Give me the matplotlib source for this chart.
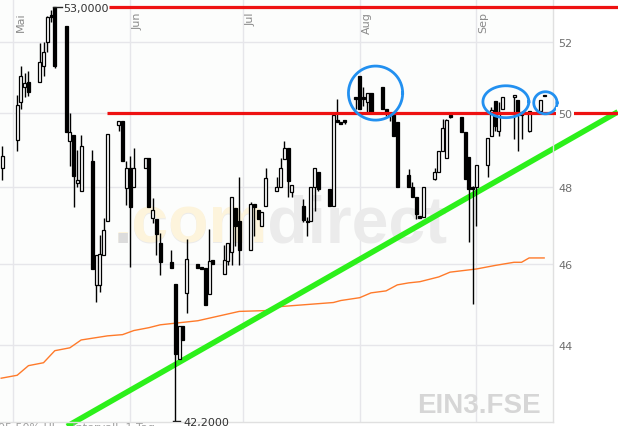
import numpy as np
import pandas as pd
import matplotlib
matplotlib.use("Agg")
import matplotlib.pyplot as plt
import matplotlib.dates as mdates
from matplotlib.transforms import blended_transform_factory
from matplotlib.ticker import NullLocator

# ---------------- data ----------------
dates = ['2017-04-28', '2017-05-02', '2017-05-03', '2017-05-04', '2017-05-05',
         '2017-05-08', '2017-05-09', '2017-05-10', '2017-05-11', '2017-05-12',
         '2017-05-15', '2017-05-16', '2017-05-17', '2017-05-18', '2017-05-19',
         '2017-05-22', '2017-05-23', '2017-05-24', '2017-05-25', '2017-05-26',
         '2017-05-29', '2017-05-30', '2017-05-31', '2017-06-01', '2017-06-02',
         '2017-06-05', '2017-06-06', '2017-06-07', '2017-06-08', '2017-06-09',
         '2017-06-12', '2017-06-13', '2017-06-14', '2017-06-15', '2017-06-16',
         '2017-06-19', '2017-06-20', '2017-06-21', '2017-06-22', '2017-06-23',
         '2017-06-26', '2017-06-27', '2017-06-28', '2017-06-29', '2017-06-30',
         '2017-07-03', '2017-07-04', '2017-07-05', '2017-07-06', '2017-07-07',
         '2017-07-10', '2017-07-11', '2017-07-12', '2017-07-13', '2017-07-14',
         '2017-07-17', '2017-07-18', '2017-07-19', '2017-07-20', '2017-07-21',
         '2017-07-24', '2017-07-25', '2017-07-26', '2017-07-27', '2017-07-28',
         '2017-07-31', '2017-08-01', '2017-08-02', '2017-08-03', '2017-08-04',
         '2017-08-07', '2017-08-08', '2017-08-09', '2017-08-10', '2017-08-11',
         '2017-08-14', '2017-08-15', '2017-08-16', '2017-08-17', '2017-08-18',
         '2017-08-21', '2017-08-22', '2017-08-23', '2017-08-24', '2017-08-25',
         '2017-08-28', '2017-08-29', '2017-08-30', '2017-08-31', '2017-09-01',
         '2017-09-04', '2017-09-05', '2017-09-06', '2017-09-07', '2017-09-08',
         '2017-09-11', '2017-09-12', '2017-09-13', '2017-09-15',
         '2017-09-18', '2017-09-19']
opens = [48.51, 49.27, 50.31, 50.73, 50.87,
         50.87, 51.30, 52.00, 52.78, 53.00,
         52.44, 49.22, 49.40, 48.11, 47.90,
         48.68, 45.48, 45.48, 46.23, 47.12,
         49.67, 49.78, 47.97, 48.51, 48.00,
         48.51, 48.78, 47.20, 47.17, 46.55,
         46.05, 45.51, 43.67, 44.47, 45.28,
         46.00, 45.93, 45.90, 45.26, 46.10,
         45.75, 46.08, 46.31, 47.46, 47.12,
         46.36, 47.56, 47.40, 46.99, 47.51,
         47.90, 48.00, 48.76, 49.03, 47.87,
         47.51, 47.12, 47.12, 48.00, 48.41,
         47.95, 47.51, 49.81, 49.76, 49.81,
         50.45, 51.02, 50.45, 50.31, 50.56,
         50.71, 50.11, 49.97, 49.97, 49.76,
         48.32, 48.00, 47.74, 47.25, 47.22,
         48.22, 48.41, 48.97, 48.78, 49.95,
         49.89, 49.49, 48.81, 48.00, 48.00,
         48.59, 49.38, 50.34, 49.51, 50.11,
         50.45, 50.37, 49.97, 49.51,
         50.06, 50.51]
highs = [49.11, 50.51, 51.30, 51.10, 51.16,
         51.97, 52.00, 52.74, 52.92, 53.00,
         52.44, 50.00, 49.40, 49.00, 49.40,
         49.00, 46.23, 46.75, 47.20, 49.43,
         49.78, 49.78, 48.70, 48.84, 49.03,
         48.78, 48.78, 47.72, 47.17, 46.81,
         46.36, 45.51, 44.47, 44.47, 46.65,
         46.00, 45.93, 45.90, 46.91, 46.10,
         46.49, 46.55, 47.74, 47.46, 48.27,
         47.61, 47.56, 47.40, 47.35, 48.51,
         48.27, 48.78, 49.22, 49.03, 48.05,
         47.69, 47.22, 48.00, 48.51, 48.41,
         47.95, 49.95, 50.39, 49.76, 49.81,
         50.45, 51.02, 50.71, 50.56, 50.56,
         50.71, 50.11, 50.03, 49.97, 49.76,
         48.49, 48.14, 47.74, 47.25, 48.00,
         48.51, 48.97, 49.84, 49.84, 49.97,
         49.89, 49.49, 48.81, 48.03, 48.59,
         49.32, 50.17, 50.34, 50.31, 50.45,
         50.51, 50.37, 50.06, 50.06,
         50.37, 50.51]
lows = [48.19, 48.97, 50.11, 50.45, 50.48,
        50.85, 51.04, 51.72, 52.58, 51.25,
        49.49, 48.57, 47.48, 48.00, 47.90,
        45.88, 45.06, 45.31, 46.23, 47.12,
        49.51, 48.70, 47.53, 45.93, 48.00,
        48.51, 47.48, 47.07, 46.23, 45.73,
        45.90, 42.20, 43.67, 44.12, 44.77,
        45.90, 45.88, 44.99, 45.26, 46.00,
        45.75, 45.98, 45.98, 46.47, 45.98,
        46.36, 46.73, 47.17, 46.99, 47.51,
        47.90, 48.00, 48.76, 47.74, 47.74,
        47.09, 46.73, 47.12, 47.38, 47.90,
        47.51, 47.51, 49.76, 49.70, 49.70,
        50.11, 50.11, 50.20, 50.03, 50.03,
        50.11, 49.92, 49.78, 49.38, 48.00,
        48.00, 47.74, 47.17, 47.20, 47.22,
        48.19, 48.41, 48.97, 48.78, 49.86,
        49.49, 48.22, 46.57, 45.01, 46.99,
        48.27, 49.38, 49.51, 49.38, 50.11,
        49.30, 48.95, 49.30, 49.49,
        50.06, 50.48]
closes = [48.84, 50.23, 51.02, 50.82, 50.59,
          51.41, 51.72, 52.72, 52.72, 51.30,
          49.49, 49.49, 48.30, 48.19, 49.11,
          45.88, 46.23, 46.26, 46.88, 49.43,
          49.78, 48.70, 48.51, 47.48, 48.51,
          48.78, 47.48, 47.40, 46.78, 46.05,
          45.90, 43.79, 44.47, 44.12, 46.13,
          45.90, 45.88, 44.99, 46.08, 46.00,
          46.10, 46.55, 47.74, 46.99, 46.36,
          47.56, 47.48, 47.17, 47.35, 48.24,
          48.00, 48.51, 49.03, 48.16, 48.05,
          47.14, 47.09, 48.00, 48.51, 47.95,
          47.51, 49.95, 49.76, 49.70, 49.76,
          50.39, 50.11, 50.39, 50.56, 50.03,
          50.11, 50.03, 49.95, 49.38, 48.00,
          48.00, 47.74, 47.30, 47.20, 48.00,
          48.41, 48.97, 49.59, 49.81, 49.89,
          49.49, 48.22, 47.95, 47.95, 48.59,
          49.32, 50.08, 49.65, 50.03, 50.45,
          50.51, 50.00, 49.95, 50.06,
          50.37, 50.48]

ma_dates = ['2017-04-27 18:00', '2017-05-02', '2017-05-05', '2017-05-09', '2017-05-12',
            '2017-05-16', '2017-05-19', '2017-05-26', '2017-05-30', '2017-06-02',
            '2017-06-06', '2017-06-09', '2017-06-14', '2017-06-19', '2017-06-30',
            '2017-07-07', '2017-07-11', '2017-07-18', '2017-07-25', '2017-07-27',
            '2017-08-01', '2017-08-04', '2017-08-08', '2017-08-11', '2017-08-14',
            '2017-08-17', '2017-08-22', '2017-08-25', '2017-09-01', '2017-09-06',
            '2017-09-11', '2017-09-13', '2017-09-15', '2017-09-19']
ma_values = [43.20, 43.27, 43.50, 43.57, 43.86,
             43.93, 44.12, 44.22, 44.25, 44.35,
             44.42, 44.49, 44.54, 44.59, 44.82,
             44.84, 44.94, 44.99, 45.04, 45.09,
             45.16, 45.28, 45.33, 45.48, 45.53,
             45.56, 45.68, 45.80, 45.88, 45.97,
             46.05, 46.05, 46.16, 46.16]

month_starts = ['2017-05-01', '2017-06-01', '2017-07-01', '2017-08-01', '2017-09-01']
month_labels = ['Mai', 'Jun', 'Jul', 'Aug', 'Sep']
ytick_values = [44, 46, 48, 50, 52]
ytick_labels = ['44', '46', '48', '50', '52']

resistance_levels = [53.0, 50.0]
resistance_starts = ['2017-05-26 12:00', '2017-05-25 18:00']
trend_dates = ['2017-05-15 06:00', '2017-10-08 14:00']
trend_values = [42.07, 50.03]

high_date, high_value, high_text = '2017-05-11 12:00', 53.0, '53,0000'
low_date, low_value, low_text = '2017-06-12 10:00', 42.2, '42,2000'

# ellipses: centre date, centre value, half-width (days), half-height (log units)
circle_centres = ['2017-08-05 05:00', '2017-09-08 20:00', '2017-09-19 08:00']
circle_values = [50.55, 50.31, 50.28]
circle_halfwidth = [7.2, 6.1, 3.1]
circle_halfheight = [0.0149, 0.0088, 0.0061]

# ---------------- figure ----------------
W, H = 618, 427
fig = plt.figure(figsize=(W / 100, H / 100), dpi=100)
fig.patch.set_facecolor('white')
ax = fig.add_axes([0, 4 / H, 553 / W, 423 / H])
ax.set_facecolor('#fcfdfc')

def dnum(s):
    return mdates.date2num(pd.to_datetime(s))

x = np.array([dnum(d) for d in dates])
o = np.array(opens); h = np.array(highs); l = np.array(lows); c = np.array(closes)

base = dnum('2017-05-01')
xmin, xmax = base - 3.56, base + 123 + 20.35
ax.set_xlim(xmin, xmax)
ax.set_yscale('log')
ax.set_ylim(42.17, 53.24)

# grid
ax.set_axisbelow(True)
ax.set_yticks(ytick_values)
ax.yaxis.set_minor_locator(NullLocator())
ax.set_xticks([dnum(m) for m in month_starts])
ax.tick_params(length=0, labelbottom=False, labelleft=False, labelright=False, labeltop=False)
ax.grid(True, color='#e6e6ea', linewidth=1.0)
for s in ['left', 'top']:
    ax.spines[s].set_visible(False)
for s in ['right', 'bottom']:
    ax.spines[s].set_color('#e0e0e0')
    ax.spines[s].set_linewidth(1.0)

# watermark
wx, wy = 113 / 553, (423 - 243) / 423
kw = dict(transform=ax.transAxes, fontsize=47.5, fontweight='bold',
          family='Liberation Sans', va='baseline', ha='left', zorder=1)
ax.text(wx, wy, '.comdirect', color='#ebebeb', **kw)
ax.text(wx, wy, '.com', color='#fdf4dc', **kw)
ax.text(wx, wy, '.', color='#dcdcdc', **kw)
ax.text(417 / 553, (423 - 413) / 423, 'EIN3.FSE', transform=ax.transAxes,
        fontsize=20, fontweight='bold', family='Liberation Sans', color='#d6d6d6',
        va='baseline', ha='left', zorder=1)

# moving average
ma_x = np.array([dnum(d) for d in ma_dates])
ax.plot(ma_x, ma_values, color='#ff7a2a', lw=1.0, zorder=2)

# trend line (extends into label area)
ax.plot([dnum(d) for d in trend_dates], trend_values, color='#2cf01a', lw=4.0,
        solid_capstyle='butt', clip_on=False, zorder=2.5)

# candles
ax.vlines(x, l, h, color='black', lw=1.0, zorder=3)
up = c >= o
bottoms = np.minimum(o, c)
heights = np.abs(c - o)
ax.bar(x, heights, bottom=bottoms, width=0.8, color=np.where(up, 'white', 'black'),
       edgecolor='black', linewidth=0.9, zorder=4)

# resistance lines
x_fig_right = xmax + (W - 553) / 553 * (xmax - xmin)
for lvl, st in zip(resistance_levels, resistance_starts):
    ax.plot([dnum(st), x_fig_right], [lvl, lvl], color='#ee1111', lw=2.3,
            solid_capstyle='butt', clip_on=False, zorder=5)

# high / low markers
hx = dnum(high_date)
ax.plot([hx, hx + 2.4], [high_value, high_value], color='#222222', lw=1.0, zorder=6)
ax.text(hx + 2.7, high_value, high_text, fontsize=8, color='#333333',
        va='center_baseline', ha='left', zorder=6)
lx = dnum(low_date)
ax.plot([lx, lx + 1.9], [low_value, low_value], color='#222222', lw=1.0, zorder=6)
ax.text(lx + 2.7, low_value, low_text, fontsize=8, color='#333333',
        va='center_baseline', ha='left', zorder=6, clip_on=False)

# ellipses
t = np.linspace(0, 2 * np.pi, 200)
for cd, cv, a, b in zip(circle_centres, circle_values, circle_halfwidth, circle_halfheight):
    cx = dnum(cd)
    ax.plot(cx + a * np.cos(t), cv * np.exp(b * np.sin(t)), color='#2290f0',
            lw=2.0, zorder=7, clip_on=False)

# month labels
bt = blended_transform_factory(ax.transData, ax.transAxes)
for m, lab in zip(month_starts, month_labels):
    ax.text(dnum(m) + 0.6, 1 - 12 / 423, lab, transform=bt, rotation=90,
            fontsize=8, color='#8a8a8a', ha='left', va='top', zorder=6)

# y labels on the right
bty = blended_transform_factory(ax.transAxes, ax.transData)
for v, lab in zip(ytick_values, ytick_labels):
    kwb = {}
    if lab == '50':
        kwb['bbox'] = dict(facecolor='white', edgecolor='none', pad=1.5)
    ax.text(1 + 5 / 553, v, lab, transform=bty, fontsize=8, color='#6e6e6e',
            ha='left', va='center_baseline', clip_on=False, zorder=8, **kwb)

# footer text (mostly cut off by the image edge)
fig.text(-0.003, 3.5 / H, '05,50% Ul     Intervall: 1 Tag', fontsize=8, color='#a0a0a0',
         ha='left', va='top')

fig.savefig('out.png', dpi=100, facecolor='white')
